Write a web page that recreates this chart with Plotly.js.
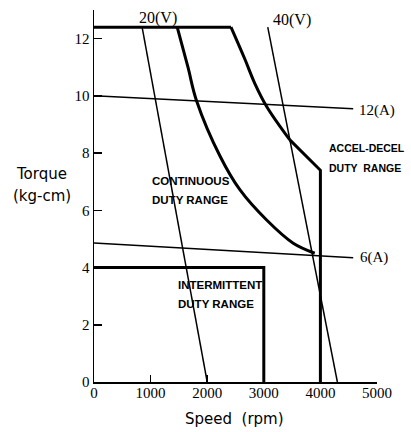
<!DOCTYPE html>
<html>
<head>
<meta charset="utf-8">
<script src="https://cdn.plot.ly/plotly-3.0.1.min.js"></script>
<style>html,body{margin:0;padding:0;background:#fff;}#chart{width:411px;height:432px;}</style>
</head>
<body>
<div id="chart"></div>
<script>
// Speed (rpm) / Torque (kg-cm) data
const topLimitSpeed = [0, 2420];
const topLimitTorque = [12.4, 12.4];
const accelCurveSpeed = [2420, 2670, 2840, 3050, 3460];
const accelCurveTorque = [12.4, 11.26, 10.44, 9.63, 8.46];
const accelEdgeSpeed = [3460, 4000, 4000];
const accelEdgeTorque = [8.46, 7.4, 0];
const contSpeed = [1470, 1660, 1810, 2230, 2580, 3050, 3520, 3900];
const contTorque = [12.4, 11.0, 9.84, 7.88, 6.71, 5.66, 4.85, 4.5];
const interSpeed = [0, 3000, 3000];
const interTorque = [4, 4, 0];
const v20Speed = [850, 2000];
const v20Torque = [12.4, 0];
const v40Speed = [3070, 4300];
const v40Torque = [12.4, 0];
const a12Speed = [0, 4580];
const a12Torque = [10.0, 9.55];
const a6Speed = [0, 4580];
const a6Torque = [4.86, 4.34];
const xTicks = [0, 1000, 2000, 3000, 4000, 5000];
const yTicks = [0, 2, 4, 6, 8, 10, 12];

const thick = {color: '#000', width: 3};
const thin = {color: '#000', width: 1.5};
const traces = [
  {x: topLimitSpeed, y: topLimitTorque, mode: 'lines', line: thick},
  {x: accelCurveSpeed, y: accelCurveTorque, mode: 'lines', line: Object.assign({shape: 'spline', smoothing: 1}, thick)},
  {x: accelEdgeSpeed, y: accelEdgeTorque, mode: 'lines', line: thick},
  {x: contSpeed, y: contTorque, mode: 'lines', line: Object.assign({shape: 'spline', smoothing: 1}, thick)},
  {x: interSpeed, y: interTorque, mode: 'lines', line: thick},
  {x: v20Speed, y: v20Torque, mode: 'lines', line: thin},
  {x: v40Speed, y: v40Torque, mode: 'lines', line: thin},
  {x: a12Speed, y: a12Torque, mode: 'lines', line: thin},
  {x: a6Speed, y: a6Torque, mode: 'lines', line: thin}
];

const serif = {family: 'Liberation Serif, DejaVu Serif, serif', size: 15, color: '#000'};
const serifBig = {family: 'Liberation Serif, DejaVu Serif, serif', size: 16, color: '#000'};
const lbl = {family: 'Liberation Sans, DejaVu Sans, sans-serif', size: 11.5, color: '#000'};
const lblSmall = {family: 'Liberation Sans, DejaVu Sans, sans-serif', size: 10.5, color: '#000'};
const title = {family: 'DejaVu Sans, Liberation Sans, sans-serif', size: 15, color: '#000'};

function note(text, x, y, font, xanchor) {
  return {text: text, x: x, y: y, xref: 'x', yref: 'y', showarrow: false, font: font,
          xanchor: xanchor || 'left', yanchor: 'middle'};
}

const annotations = [
  note('20(V)', 1130, 12.73, serifBig, 'center'),
  note('40(V)', 3500, 12.66, serifBig, 'center'),
  note('12(A)', 4650, 9.5, serif),
  note('6(A)', 4660, 4.34, serif),
  note('<b>ACCEL-DECEL</b>', 4120, 8.17, lblSmall),
  note('<b>DUTY  RANGE</b>', 4120, 7.47, lblSmall),
  note('<b>CONTINUOUS</b>', 990, 7.03, lbl),
  note('<b>DUTY RANGE</b>', 990, 6.37, lbl),
  note('<b>INTERMITTENT</b>', 1450, 3.38, lbl),
  note('<b>DUTY RANGE</b>', 1450, 2.72, lbl),
  {text: 'Speed  (rpm)', xref: 'paper', yref: 'paper', x: 0.495, y: -0.1, showarrow: false,
   font: title, xanchor: 'center', yanchor: 'middle'},
  {text: 'Torque', xref: 'paper', yref: 'paper', x: -0.184, y: 0.559, showarrow: false,
   font: title, xanchor: 'center', yanchor: 'middle'},
  {text: '(kg-cm)', xref: 'paper', yref: 'paper', x: -0.184, y: 0.5, showarrow: false,
   font: title, xanchor: 'center', yanchor: 'middle'}
];

const layout = {
  width: 411, height: 432,
  margin: {l: 94, r: 34, t: 10, b: 50},
  paper_bgcolor: '#fff', plot_bgcolor: '#fff',
  showlegend: false,
  xaxis: {range: [0, 5000], tickvals: xTicks, ticktext: xTicks.map(String),
          showgrid: false, zeroline: false, showline: true, linecolor: '#000', linewidth: 2,
          ticks: 'inside', ticklen: 7, tickwidth: 1.5, tickcolor: '#000', tickfont: serif,
          ticklabelstandoff: -4},
  yaxis: {range: [0, 13], tickvals: yTicks, ticktext: yTicks.map(String),
          showgrid: false, zeroline: false, showline: true, linecolor: '#000', linewidth: 1.5,
          ticks: 'inside', ticklen: 8, tickwidth: 1.5, tickcolor: '#000', tickfont: serif},
  annotations: annotations
};

Plotly.newPlot('chart', traces, layout, {staticPlot: true, displayModeBar: false});
</script>
</body>
</html>
